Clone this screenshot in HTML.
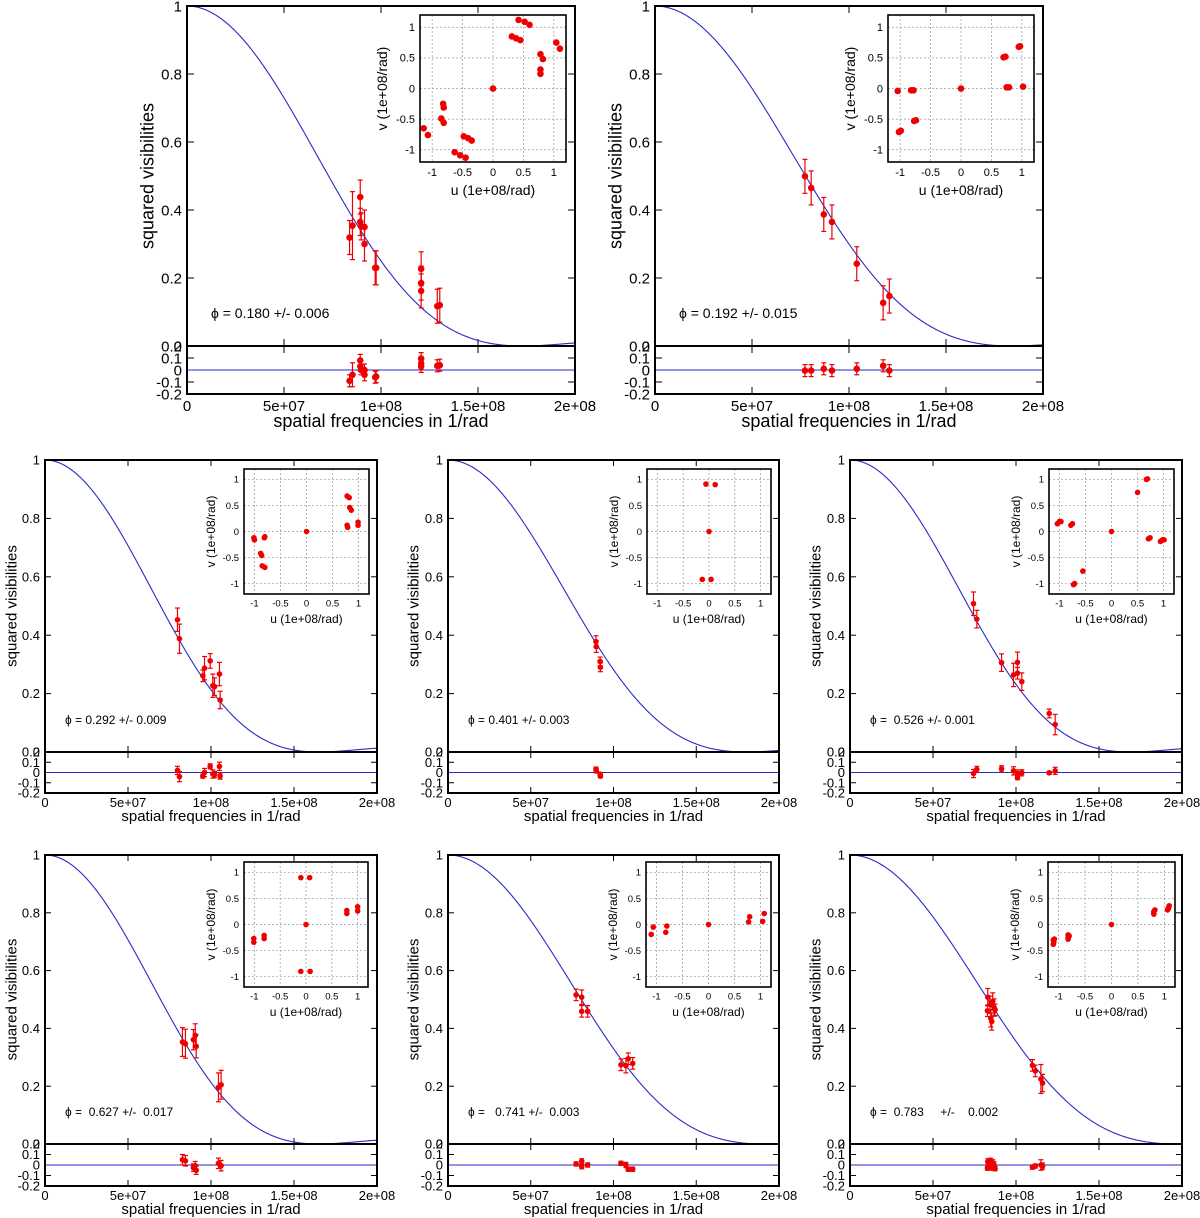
<!DOCTYPE html>
<html><head><meta charset="utf-8">
<style>
html,body{margin:0;padding:0;background:#fff;}
svg{display:block;font-family:"Liberation Sans",sans-serif;}
.pre{white-space:pre;}
</style></head>
<body>
<svg id="fig" width="1200" height="1218" viewBox="0 0 1200 1218" xmlns="http://www.w3.org/2000/svg"></svg>
<script>
// ---------- data (freq in 1e8 /rad) ----------
const xTicks = [0, 0.5, 1, 1.5, 2];
const xTickLabels = ["0", "5e+07", "1e+08", "1.5e+08", "2e+08"];
const yTicks = [0, 0.2, 0.4, 0.6, 0.8, 1];
const yTickLabels = ["0", "0.2", "0.4", "0.6", "0.8", "1"];
const rTicks = [0.2, 0.1, 0, -0.1, -0.2];
const rTickLabels = ["0.2", "0.1", "0", "-0.1", "-0.2"];
const uvTicks = [-1, -0.5, 0, 0.5, 1];
const uvTickLabels = ["-1", "-0.5", "0", "0.5", "1"];
const zeroFreqs = [1.73, 1.84, 1.65, 1.80, 1.69, 1.65, 1.91, 1.97];
const phiLabels = ["\u03D5 = 0.180 +/- 0.006", "\u03D5 = 0.192 +/- 0.015", "\u03D5 = 0.292 +/- 0.009", "\u03D5 = 0.401 +/- 0.003", "\u03D5 =  0.526 +/- 0.001", "\u03D5 =  0.627 +/-  0.017", "\u03D5 =   0.741 +/-  0.003", "\u03D5 =  0.783     +/-    0.002"];

const p1Freq = [0.838,0.853,0.893,0.893,0.898,0.915,0.915,0.970,0.975,1.207,1.207,1.207,1.29,1.303];
const p1Vis = [0.319,0.354,0.438,0.365,0.352,0.35,0.30,0.230,0.23,0.227,0.185,0.162,0.117,0.12];
const p1Err = [0.05,0.1,0.05,0.04,0.04,0.05,0.05,0.05,0.05,0.05,0.05,0.05,0.05,0.05];
const p1Res = [-0.09,-0.04,0.08,0.03,0,0,-0.04,-0.06,-0.055,0.095,0.055,0.03,0.035,0.04];
const p1U = [0,-1.14,-1.07,-0.82,-0.81,-0.85,-0.81,-0.48,-0.41,-0.35,-0.63,-0.54,-0.45,0.31,0.38,0.45,0.42,0.52,0.60,0.78,0.82,0.78,0.78,1.04,1.10];
const p1V = [0,-0.65,-0.76,-0.25,-0.31,-0.49,-0.56,-0.78,-0.81,-0.85,-1.04,-1.09,-1.13,0.85,0.82,0.79,1.12,1.09,1.04,0.56,0.48,0.31,0.24,0.75,0.65];

const p2Freq = [0.773,0.805,0.870,0.912,1.040,1.176,1.208];
const p2Vis = [0.499,0.465,0.387,0.365,0.242,0.127,0.147];
const p2Err = [0.05,0.05,0.05,0.05,0.05,0.05,0.05];
const p2Res = [-0.005,-0.005,0.01,-0.005,0.01,0.035,-0.005];
const p2U = [-1.04,-0.82,-0.78,-0.74,-0.77,-0.99,-1.02,0,0.70,0.73,0.95,0.97,0.75,0.79,1.02];
const p2V = [-0.04,-0.03,-0.03,-0.52,-0.53,-0.69,-0.71,0,0.51,0.52,0.68,0.69,0.02,0.02,0.03];

const p3Freq = [0.798,0.81,0.951,0.961,0.995,1.011,1.021,1.051,1.055];
const p3Vis = [0.453,0.388,0.261,0.287,0.312,0.227,0.224,0.267,0.178];
const p3Err = [0.04,0.05,0.02,0.04,0.025,0.04,0.03,0.04,0.03];
const p3Res = [0.02,-0.04,-0.035,0,0.06,-0.015,-0.02,0.06,-0.035];
const p3U = [0,-1.01,-1,-0.81,-0.8,-0.88,-0.86,-0.85,-0.80,0.78,0.82,0.83,0.86,0.78,0.79,0.99,0.99];
const p3V = [0,-0.12,-0.16,-0.12,-0.1,-0.42,-0.46,-0.66,-0.69,0.68,0.65,0.46,0.41,0.12,0.08,0.18,0.12];

const p4Freq = [0.894,0.896,0.919,0.921];
const p4Vis = [0.378,0.361,0.31,0.29];
const p4Err = [0.02,0.02,0.015,0.015];
const p4Res = [0.033,0.016,-0.016,-0.036];
const p4U = [-0.06,0.12,0,-0.13,0.04];
const p4V = [0.91,0.90,0,-0.92,-0.92];

const p5Freq = [0.744,0.764,0.913,0.985,1.009,1.009,1.035,1.2,1.236];
const p5Vis = [0.508,0.455,0.306,0.264,0.307,0.27,0.241,0.132,0.094];
const p5Err = [0.04,0.03,0.03,0.04,0.035,0.02,0.03,0.015,0.035];
const p5Res = [-0.01,0.03,0.036,0.016,-0.01,-0.05,-0.003,-0.003,0.016];
const p5U = [0,-1.04,-1,-0.97,-0.78,-0.75,0.5,0.67,0.69,-0.73,-0.71,-0.55,0.71,0.74,0.94,0.98,1.01];
const p5V = [0,0.15,0.19,0.19,0.12,0.15,0.75,1.0,1.01,-1.02,-1.0,-0.76,-0.14,-0.12,-0.19,-0.16,-0.16];

const p6Freq = [0.828,0.846,0.894,0.905,0.911,1.045,1.061];
const p6Vis = [0.353,0.347,0.361,0.376,0.338,0.196,0.205];
const p6Err = [0.05,0.05,0.035,0.04,0.04,0.05,0.05];
const p6Res = [0.05,0.04,-0.025,-0.006,-0.05,0.016,-0.006];
const p6U = [0,-0.1,0.07,-0.1,0.08,-1.01,-1.01,-0.81,-0.81,0.79,0.79,1.0,1.0];
const p6V = [0,0.9,0.9,-0.9,-0.9,-0.27,-0.34,-0.21,-0.27,0.27,0.21,0.34,0.26];

const p7Freq = [0.774,0.808,0.808,0.844,1.045,1.075,1.089,1.116];
const p7Vis = [0.516,0.508,0.459,0.459,0.274,0.271,0.295,0.279];
const p7Err = [0.02,0.025,0.02,0.02,0.02,0.025,0.02,0.02];
const p7Res = [0.01,0.035,-0.016,0,0.016,0,-0.04,-0.04];
const p7U = [0,-1.1,-1.06,-0.82,-0.8,0.77,0.79,1.04,1.07];
const p7V = [0,-0.19,-0.05,-0.15,-0.03,0.05,0.15,0.06,0.21];

const p8Freq = [0.83,0.828,0.844,0.848,0.854,0.868,0.874,0.86,1.099,1.116,1.15,1.16];
const p8Vis = [0.508,0.461,0.482,0.435,0.424,0.472,0.464,0.493,0.272,0.253,0.225,0.211];
const p8Err = [0.03,0.02,0.03,0.03,0.03,0.03,0.02,0.03,0.02,0.02,0.05,0.03];
const p8Res = [0.03,-0.03,0.01,0.035,-0.02,0,-0.035,0.02,-0.02,-0.01,0,-0.01];
const p8U = [0,-1.1,-1.09,-1.1,-1.08,-0.82,-0.82,-0.82,-0.8,0.8,0.8,0.82,0.8,1.06,1.08,1.09,1.07];
const p8V = [0,-0.3,-0.34,-0.38,-0.28,-0.2,-0.25,-0.28,-0.22,0.2,0.25,0.28,0.22,0.28,0.32,0.36,0.3];

// ---------- layout ----------
const layouts = [
 {L:187,R:575,T:6,B:346,RB:394,ix0:420,iy0:15,ix1:566,iy1:162,ylx:147,big:true},
 {L:655,R:1043,T:6,B:346,RB:394,ix0:888,iy0:15,ix1:1034,iy1:162,ylx:615,big:true},
 {L:45,R:377,T:460,B:752,RB:793,ix0:244,iy0:469,ix1:369,iy1:594,ylx:11,big:false},
 {L:448,R:779,T:460,B:752,RB:793,ix0:647,iy0:469,ix1:771,iy1:594,ylx:413,big:false},
 {L:850,R:1182,T:460,B:752,RB:793,ix0:1049,iy0:469,ix1:1174,iy1:594,ylx:815,big:false},
 {L:45,R:377,T:855,B:1144,RB:1186,ix0:244,iy0:862,ix1:368,iy1:987,ylx:11,big:false},
 {L:448,R:779,T:855,B:1144,RB:1186,ix0:646,iy0:862,ix1:771,iy1:987,ylx:413,big:false},
 {L:850,R:1182,T:855,B:1144,RB:1186,ix0:1048,iy0:862,ix1:1175,iy1:987,ylx:815,big:false}
];
const datasets = [
 [p1Freq,p1Vis,p1Err,p1Res,p1U,p1V],[p2Freq,p2Vis,p2Err,p2Res,p2U,p2V],
 [p3Freq,p3Vis,p3Err,p3Res,p3U,p3V],[p4Freq,p4Vis,p4Err,p4Res,p4U,p4V],
 [p5Freq,p5Vis,p5Err,p5Res,p5U,p5V],[p6Freq,p6Vis,p6Err,p6Res,p6U,p6V],
 [p7Freq,p7Vis,p7Err,p7Res,p7U,p7V],[p8Freq,p8Vis,p8Err,p8Res,p8U,p8V]
];

const NS = "http://www.w3.org/2000/svg";
const svg = document.getElementById("fig");
function mk(parent, tag, attrs, text) {
  const e = document.createElementNS(NS, tag);
  for (const k in attrs) e.setAttribute(k, attrs[k]);
  if (text !== undefined) e.textContent = text;
  parent.appendChild(e);
  return e;
}
function J1(x) {
  let s = 0, term = x / 2;
  for (let k = 0; k < 30; k++) {
    s += term;
    term *= -(x * x / 4) / ((k + 1) * (k + 2));
  }
  return s;
}
function v2(f, z) {
  const x = 3.8317 * f / z;
  if (x < 1e-6) return 1;
  const v = 2 * J1(x) / x;
  return v * v;
}

layouts.forEach((Ly, pi) => {
  const [fr, vis, err, res, us, vs] = datasets[pi];
  const g = mk(svg, "g", {});
  
  
  const fs = Ly.big ? 15 : 13;
  const lfs = Ly.big ? 18 : 15;
  const tick = Ly.big ? 7 : 6;
  const xs = f => Ly.L + (f / 2) * (Ly.R - Ly.L);
  const ys = v => Ly.B - v * (Ly.B - Ly.T);
  const rs = r => Ly.B + (0.2 - r) / 0.4 * (Ly.RB - Ly.B);

  const tg = mk(g, "g", {stroke: "#000", "stroke-width": 1});
  
  
  xTicks.forEach(t => {
    const x = xs(t);
    mk(tg, "line", {x1: x, x2: x, y1: Ly.T, y2: Ly.T + tick});
    mk(tg, "line", {x1: x, x2: x, y1: Ly.B, y2: Ly.B - tick});
    mk(tg, "line", {x1: x, x2: x, y1: Ly.B, y2: Ly.B + tick});
    mk(tg, "line", {x1: x, x2: x, y1: Ly.RB, y2: Ly.RB - tick});
  });
  yTicks.forEach(t => {
    const y = ys(t);
    mk(tg, "line", {x1: Ly.L, x2: Ly.L + tick, y1: y, y2: y});
    mk(tg, "line", {x1: Ly.R, x2: Ly.R - tick, y1: y, y2: y});
  });
  rTicks.forEach(t => {
    const y = rs(t);
    mk(tg, "line", {x1: Ly.L, x2: Ly.L + tick, y1: y, y2: y});
    mk(tg, "line", {x1: Ly.R, x2: Ly.R - tick, y1: y, y2: y});
  });

  xTicks.forEach((t, i) => {
    const e = mk(g, "text", {x: xs(t), y: Ly.RB + (Ly.big ? 17 : 14), "font-size": fs, "text-anchor": "middle"}, xTickLabels[i]);
    
    
  });
  yTicks.forEach((t, i) => {
    const e = mk(g, "text", {x: Ly.L - 5, y: ys(t) + fs * 0.35, "font-size": fs, "text-anchor": "end"}, yTickLabels[i]);
    
    
  });
  rTicks.forEach((t, i) => {
    const e = mk(g, "text", {x: Ly.L - 5, y: rs(t) + fs * 0.35, "font-size": fs, "text-anchor": "end"}, rTickLabels[i]);
    
    
  });

  const yl = mk(g, "text", {x: Ly.ylx, y: (Ly.T + Ly.B) / 2, "font-size": lfs, "text-anchor": "middle", transform: `rotate(-90 ${Ly.ylx} ${(Ly.T + Ly.B) / 2})`, dy: "0.35em"}, "squared visibilities");
  
  
  const xl = mk(g, "text", {x: (Ly.L + Ly.R) / 2, y: Ly.RB + (Ly.big ? 33 : 28), "font-size": lfs, "text-anchor": "middle"}, "spatial frequencies in 1/rad");
  
  

  let d = "";
  for (let i = 0; i <= 400; i++) {
    const f = 2 * i / 400;
    d += (i ? "L" : "M") + xs(f).toFixed(2) + "," + ys(v2(f, zeroFreqs[pi])).toFixed(2);
  }
  const cv = mk(g, "path", {d: d, fill: "none", stroke: "#2a2ac8", "stroke-width": 1.1});
  
  
  const zl = mk(g, "line", {x1: Ly.L, x2: Ly.R, y1: rs(0), y2: rs(0), stroke: "#2a2ac8", "stroke-width": 1.1});
  
  

  const cap = 2.5, rad = Ly.big ? 3.3 : 2.8;
  fr.forEach((f, i) => {
    const x = xs(f);
    const pg = mk(g, "g", {stroke: "#e00", fill: "#e00", "stroke-width": 1.2});
    
    
    const y1 = ys(vis[i] + err[i]), y2 = ys(vis[i] - err[i]);
    mk(pg, "line", {x1: x, x2: x, y1: y1, y2: y2});
    mk(pg, "line", {x1: x - cap, x2: x + cap, y1: y1, y2: y1});
    mk(pg, "line", {x1: x - cap, x2: x + cap, y1: y2, y2: y2});
    mk(pg, "circle", {cx: x, cy: ys(vis[i]), r: rad, stroke: "none"});
    const rg = mk(g, "g", {stroke: "#e00", fill: "#e00", "stroke-width": 1.2});
    
    
    const r1 = rs(res[i] + err[i]), r2 = rs(res[i] - err[i]);
    mk(rg, "line", {x1: x, x2: x, y1: r1, y2: r2});
    mk(rg, "line", {x1: x - cap, x2: x + cap, y1: r1, y2: r1});
    mk(rg, "line", {x1: x - cap, x2: x + cap, y1: r2, y2: r2});
    mk(rg, "circle", {cx: x, cy: rs(res[i]), r: rad, stroke: "none"});
  });

  const fr1 = mk(g, "rect", {x: Ly.L, y: Ly.T, width: Ly.R - Ly.L, height: Ly.B - Ly.T, fill: "none", stroke: "#000", "stroke-width": 2});
  
  
  const fr2 = mk(g, "rect", {x: Ly.L, y: Ly.B, width: Ly.R - Ly.L, height: Ly.RB - Ly.B, fill: "none", stroke: "#000", "stroke-width": 2});
  
  

  const phiY = Ly.big ? 318 : Ly.B - 28;
  const ph = mk(g, "text", {x: Ly.L + (Ly.big ? 24 : 20), y: phiY, "font-size": Ly.big ? 14 : 12, "class": "pre", "xml:space": "preserve"}, phiLabels[pi]);
  
  

  const ig = mk(g, "g", {});
  
  
  const ux = u => Ly.ix0 + (u + 1.2) / 2.4 * (Ly.ix1 - Ly.ix0);
  const vy = v => Ly.iy1 - (v + 1.2) / 2.4 * (Ly.iy1 - Ly.iy0);
  mk(ig, "rect", {x: Ly.ix0, y: Ly.iy0, width: Ly.ix1 - Ly.ix0, height: Ly.iy1 - Ly.iy0, fill: "#fff"});
  const ifs = Ly.big ? 11 : 9.5;
  uvTicks.forEach((t, i) => {
    mk(ig, "line", {x1: ux(t), x2: ux(t), y1: Ly.iy0, y2: Ly.iy1, stroke: "#999", "stroke-width": 0.7, "stroke-dasharray": "2,2"});
    mk(ig, "line", {x1: Ly.ix0, x2: Ly.ix1, y1: vy(t), y2: vy(t), stroke: "#999", "stroke-width": 0.7, "stroke-dasharray": "2,2"});
    const a = mk(ig, "text", {x: ux(t), y: Ly.iy1 + ifs + 3, "font-size": ifs, "text-anchor": "middle"}, uvTickLabels[i]);
    
    
    const b = mk(ig, "text", {x: Ly.ix0 - 5, y: vy(t) + ifs * 0.35, "font-size": ifs, "text-anchor": "end"}, uvTickLabels[i]);
    
    
  });
  us.forEach((u, i) => {
    const c = mk(ig, "circle", {cx: ux(u), cy: vy(vs[i]), r: Ly.big ? 3.3 : 2.8, fill: "#e00"});
    
    
  });
  mk(ig, "rect", {x: Ly.ix0, y: Ly.iy0, width: Ly.ix1 - Ly.ix0, height: Ly.iy1 - Ly.iy0, fill: "none", stroke: "#000", "stroke-width": 1.6});
  const ilfs = Ly.big ? 14 : 12;
  const ul = mk(ig, "text", {x: (Ly.ix0 + Ly.ix1) / 2, y: Ly.iy1 + (Ly.big ? 33 : 29), "font-size": ilfs, "text-anchor": "middle"}, "u (1e+08/rad)");
  
  
  const vx = Ly.ix0 - (Ly.big ? 38 : 33), vcy = (Ly.iy0 + Ly.iy1) / 2;
  const vl = mk(ig, "text", {x: vx, y: vcy, "font-size": ilfs, "text-anchor": "middle", transform: `rotate(-90 ${vx} ${vcy})`, dy: "0.35em"}, "v (1e+08/rad)");
  
  
});
</script>
</body></html>
